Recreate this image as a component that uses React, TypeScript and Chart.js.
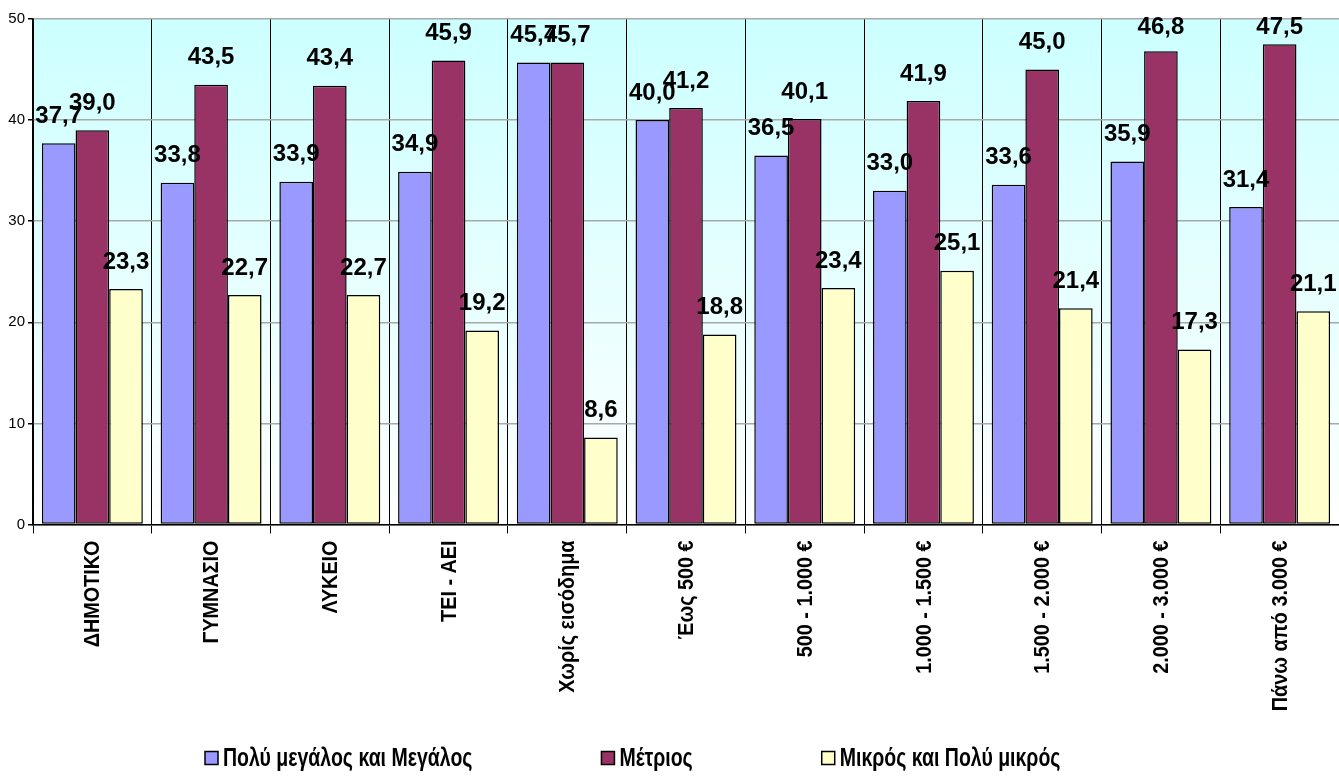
import React, { useEffect, useRef } from 'react';
import { Chart, registerables } from 'chart.js';

Chart.register(...registerables);

const FONT = "'Liberation Sans', Arial, Helvetica, sans-serif";

const categories = [
  'ΔΗΜΟΤΙΚΟ',
  'ΓΥΜΝΑΣΙΟ',
  'ΛΥΚΕΙΟ',
  'ΤΕΙ - ΑΕΙ',
  'Χωρίς εισόδημα',
  'Έως 500 €',
  '500 - 1.000 €',
  '1.000 - 1.500 €',
  '1.500 - 2.000 €',
  '2.000 - 3.000 €',
  'Πάνω από 3.000 €',
];

const seriesNames = ['Πολύ μεγάλος και Μεγάλος', 'Μέτριος', 'Μικρός και Πολύ μικρός'];
const seriesColors = ['#9999ff', '#993366', '#ffffcc'];

const bigValues = [37.7, 33.8, 33.9, 34.9, 45.7, 40.0, 36.5, 33.0, 33.6, 35.9, 31.4];
const mediumValues = [39.0, 43.5, 43.4, 45.9, 45.7, 41.2, 40.1, 41.9, 45.0, 46.8, 47.5];
const smallValues = [23.3, 22.7, 22.7, 19.2, 8.6, 18.8, 23.4, 25.1, 21.4, 17.3, 21.1];

const yMin = 0;
const yMax = 50;
const yStep = 10;

const fmt = (v: number) => v.toFixed(1).replace('.', ',');

const bgPlugin = {
  id: 'bgGradient',
  beforeDraw(chart: any) {
    const { ctx, chartArea: a } = chart;
    if (!a) return;
    const g = ctx.createLinearGradient(0, a.top, 0, a.bottom);
    g.addColorStop(0, '#ccffff');
    g.addColorStop(1, '#ffffff');
    ctx.save();
    ctx.fillStyle = g;
    ctx.fillRect(a.left, a.top, a.right - a.left, a.bottom - a.top);
    ctx.restore();
  },
};

const valueLabelPlugin = {
  id: 'valueLabels',
  afterDatasetsDraw(chart: any) {
    const { ctx, chartArea } = chart;
    ctx.save();
    ctx.font = `bold 24px ${FONT}`;
    ctx.fillStyle = '#000';
    ctx.textAlign = 'center';
    ctx.textBaseline = 'middle';
    chart.data.datasets.forEach((ds: any, i: number) => {
      const meta = chart.getDatasetMeta(i);
      meta.data.forEach((el: any, j: number) => {
        const v = ds.data[j];
        const y = Math.max(el.y - 27, chartArea.top + 8);
        ctx.fillText(fmt(v), el.x, y);
      });
    });
    ctx.restore();
  },
};

// category labels drawn rotated with a slightly condensed font (like the original)
const xLabelPlugin = {
  id: 'xLabels',
  afterDraw(chart: any) {
    const { ctx, chartArea } = chart;
    const xs = chart.scales.x;
    ctx.save();
    ctx.font = `bold 22px ${FONT}`;
    ctx.fillStyle = '#000';
    ctx.textAlign = 'right';
    ctx.textBaseline = 'middle';
    chart.data.labels.forEach((lab: string, i: number) => {
      const x = xs.getPixelForTick(i);
      const y = chartArea.bottom + 16;
      ctx.save();
      ctx.translate(x + 1, y);
      ctx.rotate(-Math.PI / 2);
      ctx.scale(0.9, 1);
      ctx.fillText(lab, 0, 0);
      ctx.restore();
    });
    ctx.restore();
  },
};

const legendPlugin = {
  id: 'customLegend',
  afterDraw(chart: any) {
    const ctx = chart.ctx;
    ctx.save();
    const sx = 0.78;
    ctx.font = `bold 25px ${FONT}`;
    const box = 13;
    const gapText = 5;
    const gapItem = 129;
    const items = chart.data.datasets.map((d: any) => ({
      label: d.label,
      color: d.backgroundColor,
      tw: ctx.measureText(d.label).width * sx,
    }));
    items.forEach((it: any) => (it.w = box + gapText + it.tw));
    let x = 205;
    const y = 758;
    items.forEach((it: any) => {
      ctx.fillStyle = it.color;
      ctx.fillRect(x, y - box / 2, box, box);
      ctx.strokeStyle = '#000';
      ctx.lineWidth = 1.5;
      ctx.strokeRect(x, y - box / 2, box, box);
      ctx.fillStyle = '#000';
      ctx.textAlign = 'left';
      ctx.textBaseline = 'middle';
      ctx.save();
      ctx.translate(x + box + gapText, y + 1);
      ctx.scale(sx, 1);
      ctx.fillText(it.label, 0, 0);
      ctx.restore();
      x += it.w + gapItem;
    });
    ctx.restore();
  },
};

export default function App() {
  const canvasRef = useRef<HTMLCanvasElement | null>(null);

  useEffect(() => {
    const canvas = canvasRef.current;
    if (!canvas) return;
    const values = [bigValues, mediumValues, smallValues];
    const chart = new Chart(canvas, {
      type: 'bar',
      data: {
        labels: categories,
        datasets: values.map((data, i) => ({
          label: seriesNames[i],
          data,
          backgroundColor: seriesColors[i],
          borderColor: '#000000',
          borderWidth: 1.5,
          borderSkipped: false,
          categoryPercentage: 0.85,
          barPercentage: 1,
        })),
      },
      options: {
        responsive: false,
        animation: false,
        layout: { padding: { top: 19, bottom: 48, left: 0, right: 0 } },
        plugins: {
          legend: { display: false },
          tooltip: { enabled: false },
        },
        scales: {
          x: {
            offset: true,
            grid: {
              offset: true,
              color: (c: any) => (c.index === categories.length ? 'rgba(0,0,0,0)' : '#000000'),
              lineWidth: 1,
              tickLength: 9,
              tickColor: '#000000',
            },
            border: { color: '#000000', width: 1.5 },
            ticks: {
              display: false,
              autoSkip: false,
            },
            afterFit(s: any) {
              s.height = 207.5;
            },
          },
          y: {
            min: yMin,
            max: yMax,
            ticks: {
              stepSize: yStep,
              padding: 3,
              color: '#000000',
              font: { family: FONT, size: 15 },
            },
            grid: {
              color: '#a8a8a8',
              lineWidth: 1.5,
              tickLength: 5,
              tickColor: '#000000',
            },
            border: { color: '#000000', width: 1.5 },
            afterFit(s: any) {
              s.width = 33;
            },
          },
        },
      } as any,
      plugins: [bgPlugin, valueLabelPlugin, xLabelPlugin, legendPlugin],
    });
    return () => chart.destroy();
  }, []);

  return (
    <div style={{ position: 'absolute', left: 0, top: 0, width: 1339, height: 780, background: '#ffffff' }}>
      <canvas ref={canvasRef} width={1339} height={780} style={{ display: 'block' }} />
    </div>
  );
}
